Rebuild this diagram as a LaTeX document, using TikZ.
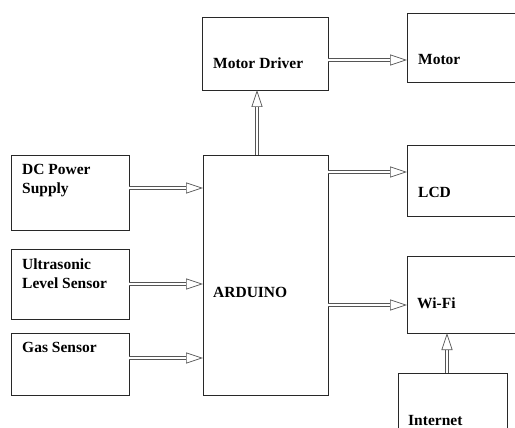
\documentclass[tikz,border=0pt]{standalone}
\usepackage{fontspec}
\setmainfont{Liberation Serif}[BoldFont={Liberation Serif Bold}]
\usetikzlibrary{arrows.meta,calc}
\definecolor{boxline}{RGB}{40,40,40}
\definecolor{arrline}{RGB}{85,85,85}

\begin{document}
\begin{tikzpicture}[
  x=1pt, y=-1pt,
  block/.style={draw=boxline, line width=0.9pt, anchor=north west, inner sep=0pt, outer sep=0pt},
  lbl/.style={anchor=base west, inner sep=0pt, align=left, font=\fontsize{15.5}{19.5}\selectfont\bfseries},
  dbl/.style={draw=arrline, double=white, double distance=2.8pt, line width=0.7pt,
    -{Triangle[open, length=17pt, width=11pt]}}
]
\useasboundingbox (0,0) rectangle (515,428);

% boxes
\node[block, minimum width=126, minimum height=73] (drv) at (202,17) {};
\node[block, minimum width=112, minimum height=69] (mot) at (407,13) {};
\node[block, minimum width=112, minimum height=71] (lcd) at (407,145) {};
\node[block, minimum width=125, minimum height=240] (ard) at (203,155) {};
\node[block, minimum width=118, minimum height=75] (dc) at (11,155) {};
\node[block, minimum width=118, minimum height=70] (ult) at (11,249) {};
\node[block, minimum width=118, minimum height=62] (gas) at (11,333) {};
\node[block, minimum width=112, minimum height=77] (wifi) at (407,256) {};
\node[block, minimum width=109, minimum height=70] (net) at (398,373) {};

% texts (base of last line)
\node[lbl] (drvtxt) at (213,69) {Motor Driver};
\node[lbl] (mottxt) at (418,65) {Motor};
\node[lbl] (lcdtxt) at (418,197) {LCD};
\node[lbl] (ardtxt) at (213,298) {ARDUINO};
\node[lbl] (dctxt) at (22,193.5) {DC Power\\Supply};
\node[lbl] (ulttxt) at (22,288.5) {Ultrasonic\\Level Sensor};
\node[lbl] (gastxt) at (22,352) {Gas Sensor};
\node[lbl] (wifitxt) at (417,308) {Wi-Fi};
\node[lbl] (nettxt) at (408,425) {Internet};

% arrows
\draw[dbl] ($(drv.north east)+(0,43)$) -- ($(mot.north west)+(0,47)$);
\draw[dbl] ($(ard.north west)+(54,0)$) -- ($(drv.south west)+(55,0)$);
\draw[dbl] ($(ard.north east)+(0,17)$) -- ($(lcd.north west)+(0,27)$);
\draw[dbl] ($(dc.north east)+(0,33)$) -- ($(ard.north west)+(0,33)$);
\draw[dbl] ($(ult.north east)+(0,35)$) -- ($(ard.north west)+(0,129)$);
\draw[dbl] ($(gas.north east)+(0,25)$) -- ($(ard.north west)+(0,203)$);
\draw[dbl] ($(ard.north east)+(0,150)$) -- ($(wifi.north west)+(0,49)$);
\draw[dbl] ($(net.north west)+(49,0)$) -- ($(wifi.south west)+(40,0)$);
\end{tikzpicture}
\end{document}
